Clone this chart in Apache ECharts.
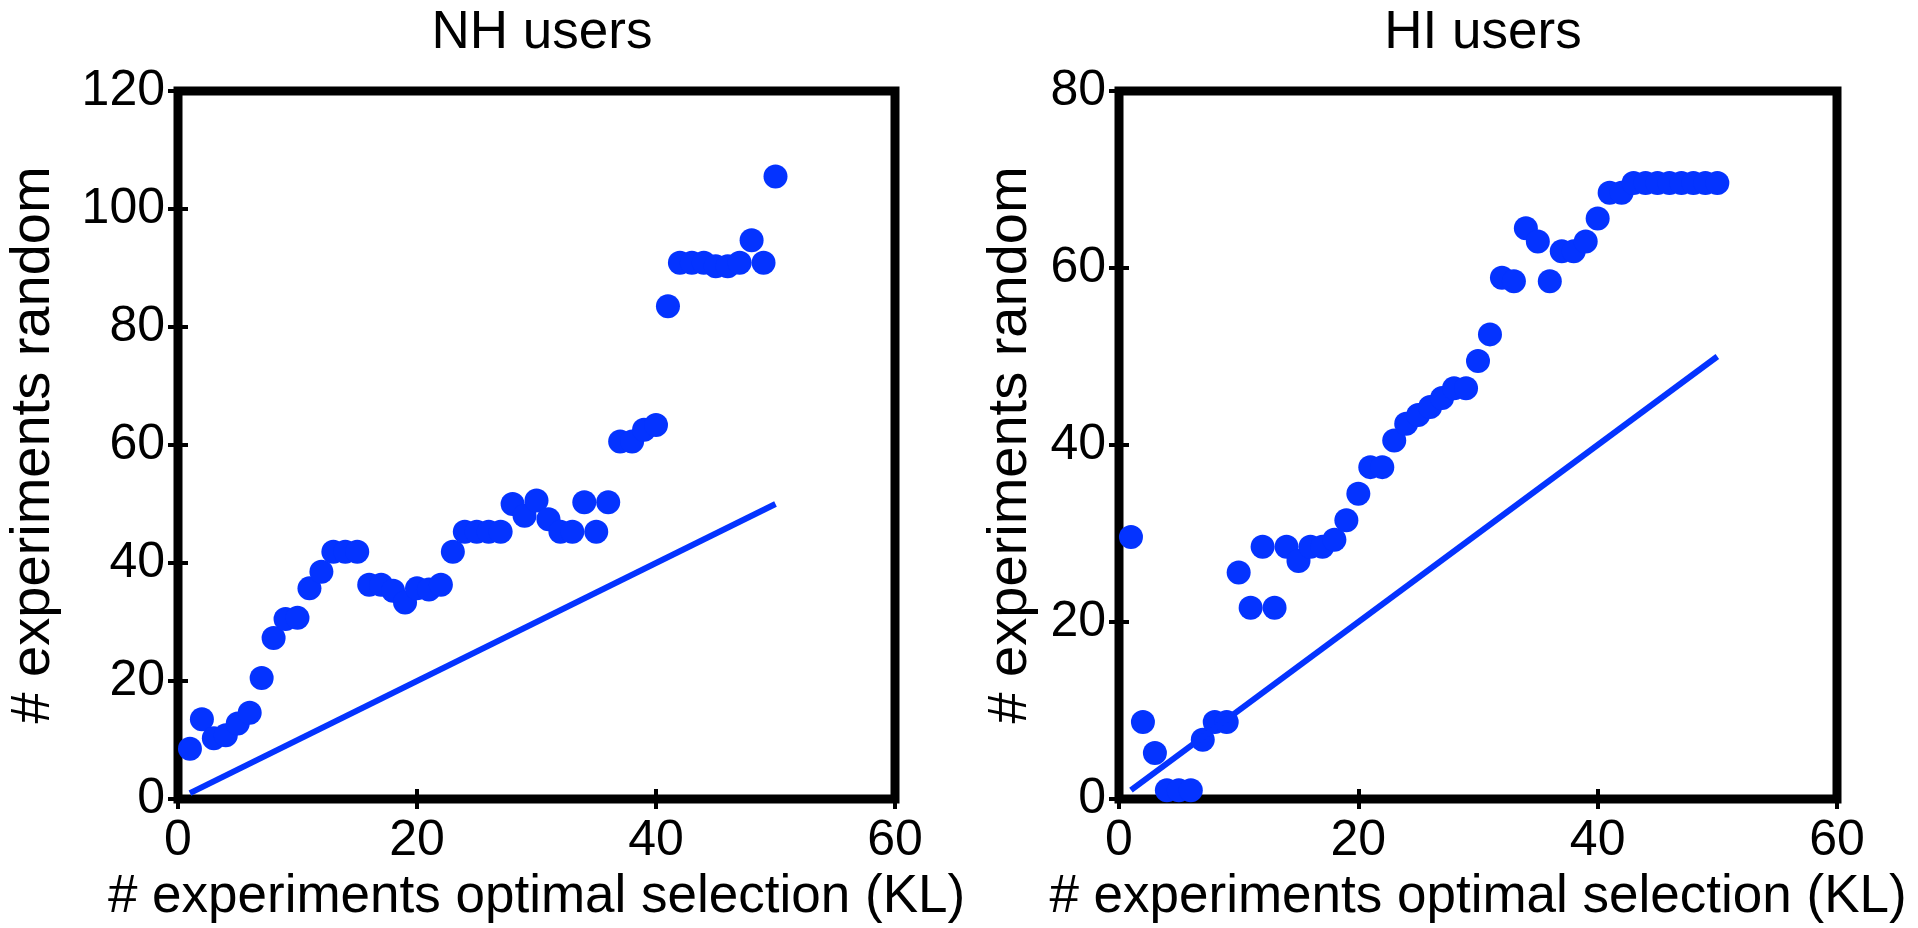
<!DOCTYPE html>
<html>
<head>
<meta charset="utf-8">
<script src="https://cdn.jsdelivr.net/npm/echarts@6/dist/echarts.min.js"></script>
<style>
  html, body { margin: 0; padding: 0; background: #fff; }
  #chart { width: 1918px; height: 928px; }
</style>
</head>
<body>
<div id="chart"></div>
<script>
// x = number of experiments with optimal selection (KL)
const xValues = [1, 2, 3, 4, 5, 6, 7, 8, 9, 10, 11, 12, 13, 14, 15, 16, 17, 18, 19, 20,
  21, 22, 23, 24, 25, 26, 27, 28, 29, 30, 31, 32, 33, 34, 35, 36, 37, 38, 39, 40,
  41, 42, 43, 44, 45, 46, 47, 48, 49, 50];

// NH users: experiments needed with random selection
const nhRandom = [8.5, 13.5, 10.3, 10.8, 12.8, 14.6, 20.5, 27.3, 30.5, 30.7,
  35.7, 38.5, 41.9, 41.9, 41.9, 36.3, 36.3, 35.3, 33.3, 35.7,
  35.5, 36.3, 41.9, 45.3, 45.3, 45.3, 45.3, 50, 48, 50.6,
  47.4, 45.3, 45.3, 50.3, 45.3, 50.3, 60.6, 60.6, 62.6, 63.4,
  83.5, 90.9, 90.9, 90.9, 90.3, 90.3, 90.9, 94.7, 90.9, 105.5];

// HI users: experiments needed with random selection
const hiRandom = [29.6, 8.7, 5.2, 1, 1, 1, 6.7, 8.7, 8.7, 25.6,
  21.6, 28.5, 21.6, 28.5, 26.9, 28.5, 28.5, 29.3, 31.5, 34.5,
  37.5, 37.5, 40.5, 42.4, 43.4, 44.3, 45.3, 46.4, 46.4, 49.5,
  52.5, 58.9, 58.5, 64.5, 63, 58.5, 61.9, 61.9, 63, 65.6,
  68.5, 68.5, 69.6, 69.6, 69.6, 69.6, 69.6, 69.6, 69.6, 69.6];

// reference line y = x
const diagX = [1, 50];
const diagY = [1, 50];

const titles = ["NH users", "HI users"];
const xTicks = [0, 20, 40, 60];
const nhYMax = 120;
const hiYMax = 80;
const tickStep = 20;

const xName = "# experiments optimal selection (KL)";
const yName = "# experiments random";

const FONT = "Liberation Sans";
const BLUE = "#0433ff";

const chart = echarts.init(document.getElementById("chart"));

function pairs(xs, ys) {
  return xs.map((x, i) => [x, ys[i]]);
}

// bottom/left axes carry labels, top/right axes only mirror the inside ticks
function xAxisFor(grid, withLabels) {
  return {
    type: "value",
    gridIndex: grid,
    position: withLabels ? "bottom" : "top",
    min: xTicks[0],
    max: xTicks[xTicks.length - 1],
    interval: tickStep,
    name: withLabels ? xName : "",
    nameLocation: "middle",
    nameGap: 70,
    nameTextStyle: { fontFamily: FONT, fontSize: 53, color: "#000" },
    axisLine: { show: false },
    axisTick: { show: true, inside: true, length: 10, lineStyle: { color: "#000", width: 4 } },
    axisLabel: { show: withLabels, margin: 17, fontFamily: FONT, fontSize: 50, color: "#000" },
    splitLine: { show: false },
  };
}

function yAxisFor(grid, max, withLabels, gap) {
  return {
    type: "value",
    gridIndex: grid,
    position: withLabels ? "left" : "right",
    min: 0,
    max: max,
    interval: tickStep,
    name: withLabels ? yName : "",
    nameLocation: "middle",
    nameGap: gap,
    nameTextStyle: { fontFamily: FONT, fontSize: 56, color: "#000" },
    axisLine: { show: false },
    axisTick: { show: true, inside: true, length: 10, lineStyle: { color: "#000", width: 4 } },
    axisLabel: { show: withLabels, margin: 13, fontFamily: FONT, fontSize: 50, color: "#000" },
    splitLine: { show: false },
  };
}

const gridStyle = {
  show: true,
  borderWidth: 9,
  borderColor: "#000",
  backgroundColor: "#fff",
  outerBoundsMode: "none",
  containLabel: false,
};

const option = {
  animation: false,
  backgroundColor: "#fff",
  title: [
    {
      text: titles[0],
      left: 537,
      top: 2,
      textAlign: "center",
      textStyle: { fontFamily: FONT, fontSize: 53, fontWeight: "normal", color: "#000" },
    },
    {
      text: titles[1],
      left: 1478,
      top: 2,
      textAlign: "center",
      textStyle: { fontFamily: FONT, fontSize: 53, fontWeight: "normal", color: "#000" },
    },
  ],
  grid: [
    Object.assign({ left: 178, top: 91, width: 717, height: 708 }, gridStyle),
    Object.assign({ left: 1119, top: 91, width: 718, height: 708 }, gridStyle),
  ],
  xAxis: [
    xAxisFor(0, true),
    xAxisFor(0, false),
    xAxisFor(1, true),
    xAxisFor(1, false),
  ],
  yAxis: [
    yAxisFor(0, nhYMax, true, 116),
    yAxisFor(0, nhYMax, false, 0),
    yAxisFor(1, hiYMax, true, 80),
    yAxisFor(1, hiYMax, false, 0),
  ],
  series: [
    {
      name: "NH diag",
      type: "line",
      xAxisIndex: 0,
      yAxisIndex: 0,
      symbol: "none",
      lineStyle: { color: BLUE, width: 6 },
      data: pairs(diagX, diagY),
    },
    {
      name: "NH random",
      type: "scatter",
      xAxisIndex: 0,
      yAxisIndex: 0,
      symbol: "circle",
      symbolSize: 24,
      itemStyle: { color: BLUE, opacity: 1 },
      data: pairs(xValues, nhRandom),
    },
    {
      name: "HI diag",
      type: "line",
      xAxisIndex: 2,
      yAxisIndex: 2,
      symbol: "none",
      lineStyle: { color: BLUE, width: 6 },
      data: pairs(diagX, diagY),
    },
    {
      name: "HI random",
      type: "scatter",
      xAxisIndex: 2,
      yAxisIndex: 2,
      symbol: "circle",
      symbolSize: 24,
      itemStyle: { color: BLUE, opacity: 1 },
      data: pairs(xValues, hiRandom),
    },
  ],
};

chart.setOption(option);
</script>
</body>
</html>
